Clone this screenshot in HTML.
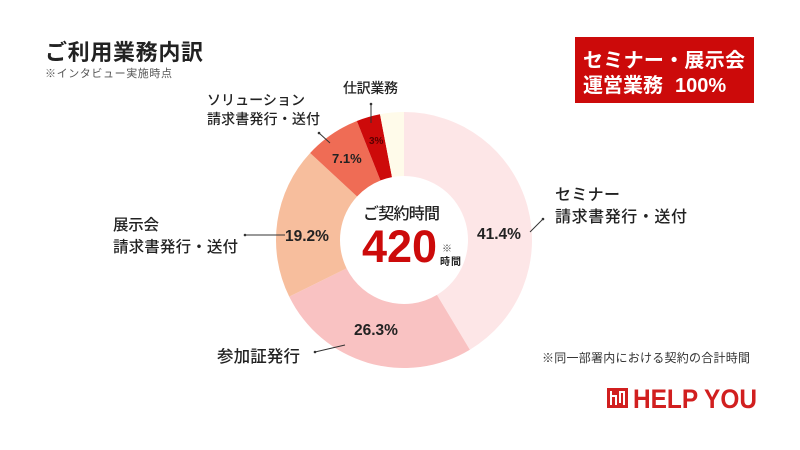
<!DOCTYPE html>
<html>
<head>
<meta charset="utf-8">
<style>
html,body{margin:0;padding:0;background:#fff;}
svg{display:block;}
text{font-family:"Liberation Sans","Noto Sans CJK JP",sans-serif;}
</style>
</head>
<body>
<svg width="800" height="450" viewBox="0 0 800 450" xmlns="http://www.w3.org/2000/svg">
  <rect width="800" height="450" fill="#ffffff"/>

  <!-- Title -->
  <text x="45" y="60" font-size="22" font-weight="700" fill="#222" textLength="158">ご利用業務内訳</text>
  <text x="45" y="77" font-size="11" fill="#555" textLength="127">※インタビュー実施時点</text>

  <!-- Red box -->
  <rect x="575" y="37" width="179" height="66" fill="#cc0a0a"/>
  <text x="583" y="67" font-size="20" font-weight="700" fill="#fff" textLength="162">セミナー・展示会</text>
  <text x="583" y="92" font-size="20" font-weight="700" fill="#fff" textLength="80">運営業務</text>
  <text x="675" y="92" font-size="20" font-weight="700" fill="#fff">100%</text>

  <!-- Donut -->
  <path d="M404,112 A128,128 0 0 1 469.86,349.76 L436.93,294.88 A64,64 0 0 0 404,176 Z" fill="#fde6e7"/>
  <path d="M469.86,349.76 A128,128 0 0 1 289.22,296.67 L346.61,268.33 A64,64 0 0 0 436.93,294.88 Z" fill="#f9c2c2"/>
  <path d="M289.22,296.67 A128,128 0 0 1 310.14,152.97 L357.07,196.49 A64,64 0 0 0 346.61,268.33 Z" fill="#f7be9d"/>
  <path d="M310.14,152.97 A128,128 0 0 1 356.88,120.99 L380.44,180.49 A64,64 0 0 0 357.07,196.49 Z" fill="#ef6c55"/>
  <path d="M356.88,120.99 A128,128 0 0 1 380.01,114.26 L392.01,177.13 A64,64 0 0 0 380.44,180.49 Z" fill="#cd0a0a"/>
  <path d="M380.01,114.26 A128,128 0 0 1 404,112 L404,176 A64,64 0 0 0 392.01,177.13 Z" fill="#fffbea"/>

  <!-- Center text -->
  <text x="363" y="219" font-size="16" font-weight="500" fill="#222" textLength="77">ご契約時間</text>
  <text x="362" y="262" font-size="45" font-weight="700" fill="#cc0a0a" textLength="75">420</text>
  <text x="442" y="252" font-size="10" fill="#444">※</text>
  <text x="440" y="265" font-size="10" font-weight="700" fill="#222" textLength="21">時間</text>

  <!-- Percent labels -->
  <text x="477" y="239" font-size="15.5" font-weight="700" fill="#222">41.4%</text>
  <text x="354" y="335" font-size="15.5" font-weight="700" fill="#222">26.3%</text>
  <text x="285" y="241" font-size="15.5" font-weight="700" fill="#222">19.2%</text>
  <text x="332" y="163" font-size="13" font-weight="700" fill="#222">7.1%</text>
  <text x="369" y="144" font-size="10" font-weight="700" fill="#5a0000">3%</text>

  <!-- Leader lines -->
  <g stroke="#333" stroke-width="1" fill="#333">
    <line x1="530" y1="232" x2="543" y2="219"/>
    <circle cx="543" cy="219" r="1.3" stroke="none"/>
    <line x1="245" y1="235" x2="285" y2="235"/>
    <circle cx="245" cy="235" r="1.3" stroke="none"/>
    <line x1="315" y1="352" x2="345" y2="345"/>
    <circle cx="315" cy="352" r="1.3" stroke="none"/>
    <line x1="319" y1="133" x2="330" y2="143"/>
    <circle cx="319" cy="133" r="1.3" stroke="none"/>
    <line x1="371" y1="104" x2="371" y2="123"/>
    <circle cx="371" cy="104" r="1.3" stroke="none"/>
  </g>

  <!-- Category labels -->
  <text x="555" y="200" font-size="16" font-weight="500" fill="#222" textLength="65">セミナー</text>
  <text x="555" y="222" font-size="16" font-weight="500" fill="#222" textLength="132">請求書発行・送付</text>

  <text x="113" y="230" font-size="15.5" font-weight="500" fill="#222" textLength="46">展示会</text>
  <text x="113" y="252" font-size="15.5" font-weight="500" fill="#222" textLength="125">請求書発行・送付</text>

  <text x="217" y="362" font-size="16.5" font-weight="500" fill="#222" textLength="83">参加証発行</text>

  <text x="207" y="105" font-size="14" font-weight="500" fill="#222" textLength="98">ソリューション</text>
  <text x="207" y="124" font-size="14" font-weight="500" fill="#222" textLength="113">請求書発行・送付</text>

  <text x="343" y="93" font-size="14" font-weight="500" fill="#222" textLength="55">仕訳業務</text>

  <!-- Footnote -->
  <text x="542" y="362" font-size="12" fill="#333" textLength="208">※同一部署内における契約の合計時間</text>

  <!-- Logo -->
  <rect x="607" y="388" width="21" height="20" fill="#d11f1f"/>
  <g fill="#fff">
    <rect x="610" y="391" width="2" height="14"/>
    <rect x="612" y="395" width="5" height="2"/>
    <rect x="615" y="395" width="2" height="10"/>
    <rect x="619" y="391" width="2" height="12"/>
    <rect x="621" y="391" width="4" height="2"/>
    <rect x="623" y="391" width="2" height="14"/>
  </g>
  <text x="633" y="408" font-size="27" font-weight="700" fill="#d11f1f" textLength="124" lengthAdjust="spacingAndGlyphs">HELP YOU</text>
</svg>
</body>
</html>
